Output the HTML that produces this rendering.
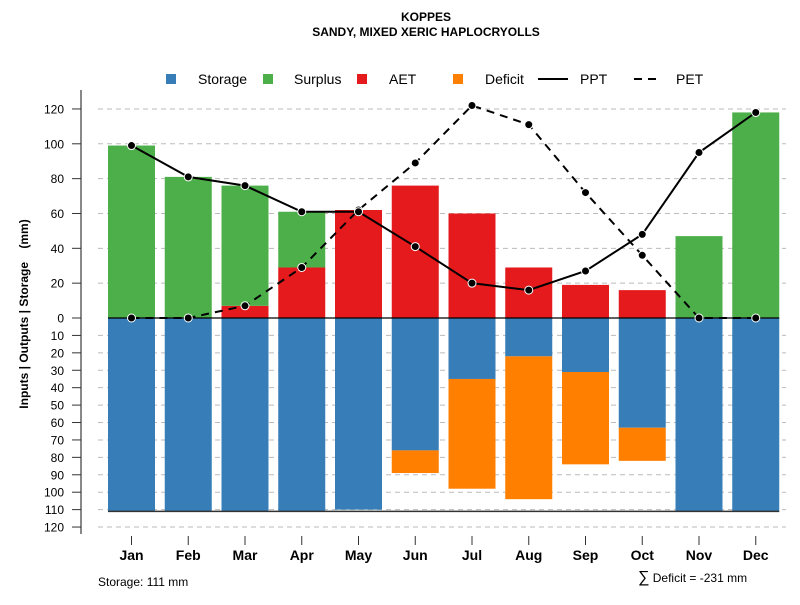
<!DOCTYPE html>
<html><head><meta charset="utf-8"><style>
body{margin:0;background:#fff;font-family:"Liberation Sans",sans-serif}
svg text{font-family:"Liberation Sans",sans-serif}
</style></head><body>
<svg id="c" width="800" height="600" xmlns="http://www.w3.org/2000/svg">
<text x="426" y="21" font-size="12" font-weight="bold" text-anchor="middle">KOPPES</text>
<text x="426" y="36" font-size="12" font-weight="bold" text-anchor="middle">SANDY, MIXED XERIC HAPLOCRYOLLS</text>
<g id="legend">
<rect x="166" y="74" width="10" height="10" fill="#377eb8"/>
<text x="198" y="84" font-size="14">Storage</text>
<rect x="263" y="74" width="10" height="10" fill="#4daf4a"/>
<text x="294" y="84" font-size="14">Surplus</text>
<rect x="357" y="74" width="10" height="10" fill="#e41a1c"/>
<text x="389" y="84" font-size="14">AET</text>
<rect x="453" y="74" width="10" height="10" fill="#ff7f00"/>
<text x="485" y="84" font-size="14">Deficit</text>
<line x1="538" y1="79" x2="568" y2="79" stroke="#000" stroke-width="2"/>
<text x="580" y="84" font-size="14">PPT</text>
<line x1="634" y1="79" x2="660" y2="79" stroke="#000" stroke-width="2" stroke-dasharray="8,6"/>
<text x="676" y="84" font-size="14">PET</text>
</g>
<text transform="translate(28,314) rotate(-90)" font-size="12" font-weight="bold" text-anchor="middle" style="white-space:pre">Inputs | Outputs | Storage    (mm)</text>
<text x="98" y="586" font-size="12">Storage: 111 mm</text>
<text x="638" y="582" font-size="12"><tspan font-size="16">∑</tspan> Deficit = -231 mm</text>
</svg>
<script>
const months=["Jan","Feb","Mar","Apr","May","Jun","Jul","Aug","Sep","Oct","Nov","Dec"];
const aet=[0,0,7,29,62,76,60,29,19,16,0,0];
const surplus=[99,81,69,32,0,0,0,0,0,0,47,118];
const storage=[111,111,111,111,110,76,35,22,31,63,111,111];
const deficit=[0,0,0,0,0,13,63,82,53,19,0,0];
const ppt=[99,81,76,61,61,41,20,16,27,48,95,118];
const pet=[0,0,7,29,62,89,122,111,72,36,0,0];
const topTicks=[0,20,40,60,80,100,120];
const botTicks=[10,20,30,40,50,60,70,80,90,100,110,120];
const storageCap=111;
const svg=document.getElementById('c');
const NS="http://www.w3.org/2000/svg";
const y0=318,k=1.742;
const yT=v=>y0-v*k, yB=v=>y0+v*k;
const xC=i=>131.5+i*56.75, bw=47;
function mk(t,a,p){const e=document.createElementNS(NS,t);for(const n in a)e.setAttribute(n,a[n]);(p||svg).appendChild(e);return e;}
topTicks.forEach(v=>{if(v===0)return;const g=mk('line',{x1:98,x2:786,y1:yT(v),y2:yT(v),stroke:'#bbb','stroke-dasharray':'5,4'});

});
botTicks.forEach(v=>{const g=mk('line',{x1:98,x2:786,y1:yB(v),y2:yB(v),stroke:'#bbb','stroke-dasharray':'5,4'});

});
months.forEach((m,i)=>{const x=xC(i)-bw/2;
 if(aet[i]>0){const r=mk('rect',{x,y:yT(aet[i]),width:bw,height:aet[i]*k,fill:'#e41a1c'});
 
 }
 if(surplus[i]>0){const r=mk('rect',{x,y:yT(aet[i]+surplus[i]),width:bw,height:surplus[i]*k,fill:'#4daf4a'});
 
 }
 if(storage[i]>0){const r=mk('rect',{x,y:y0,width:bw,height:storage[i]*k,fill:'#377eb8'});
 
 }
 if(deficit[i]>0){const r=mk('rect',{x,y:yB(storage[i]),width:bw,height:deficit[i]*k,fill:'#ff7f00'});
 
 }
});
const zl=mk('line',{x1:xC(0)-bw/2,x2:xC(11)+bw/2,y1:y0,y2:y0,stroke:'#000','stroke-width':1.2});


const cl=mk('line',{x1:xC(0)-bw/2,x2:xC(11)+bw/2,y1:yB(storageCap),y2:yB(storageCap),stroke:'#333','stroke-width':1.5});


function series(arr,dash,name){const pts=arr.map((v,i)=>xC(i)+','+yT(v)).join(' ');
 const l=mk('polyline',{points:pts,fill:'none',stroke:'#000','stroke-width':2,'stroke-dasharray':dash});
 
 
 arr.forEach((v,i)=>{const c=mk('circle',{cx:xC(i),cy:yT(v),r:4,fill:'#000',stroke:'#fff','stroke-width':1});
 
 });}
series(pet,'8,6','pet');
series(ppt,'none','ppt');
const ya=mk('line',{x1:81,x2:81,y1:90,y2:534,stroke:'#888','stroke-width':2});


function ytick(y,lab){mk('line',{x1:72,x2:81,y1:y,y2:y,stroke:'#333'});
 const t=mk('text',{x:64,y:y+4.5,'font-size':12,'text-anchor':'end'});t.textContent=lab;
 
 }
topTicks.forEach(v=>ytick(yT(v),v));
botTicks.forEach(v=>ytick(yB(v),v));
months.forEach((m,i)=>{mk('line',{x1:xC(i),x2:xC(i),y1:536,y2:545,stroke:'#333'});
 const t=mk('text',{x:xC(i),y:560,'font-size':14,'font-weight':'bold','text-anchor':'middle'});t.textContent=m;
 
 });
</script>
</body></html>
